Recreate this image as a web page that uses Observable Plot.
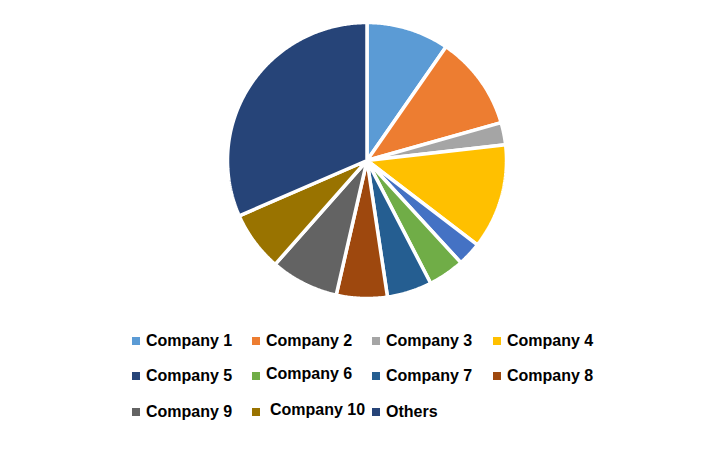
<!DOCTYPE html>
<html>
<head>
<meta charset="utf-8">
<script src="https://cdn.jsdelivr.net/npm/d3@7"></script>
<script src="https://cdn.jsdelivr.net/npm/@observablehq/plot@0.6"></script>
<style>
  html, body { margin: 0; padding: 0; background: #fff; }
  #wrap { position: relative; width: 723px; height: 456px; overflow: hidden; }
  #chart svg { display: block; }
  #legend {
    position: absolute; left: 132px; top: 323px;
    display: grid; grid-template-columns: 120px 120px 121px 120px;
    grid-template-rows: 35px 35px 36px;
    font-family: "Liberation Sans", Arial, sans-serif; font-weight: bold; font-size: 16px; color: #000;
  }
  .item { display: flex; align-items: center; white-space: nowrap; }
  .sw { width: 8px; height: 8px; margin-right: 6px; flex: none; }
  .item:nth-child(6) span:last-child { position: relative; top: -2px; }
  .item:nth-child(10) span:last-child { position: relative; top: -2px; left: 4px; }
  .item:nth-child(9), .item:nth-child(10), .item:nth-child(11) { padding-top: 2px; }
</style>
</head>
<body>
<div id="wrap">
  <div id="chart"></div>
  <div id="legend"></div>
</div>
<script>
const names = ["Company 1","Company 2","Company 3","Company 4","Company 5","Company 6","Company 7","Company 8","Company 9","Company 10","Others"];
const shares = [9.6, 11.0, 2.6, 12.3, 2.8, 4.2, 5.2, 5.9, 7.9, 7.0, 31.6];
const sliceColors = ["#5B9BD5","#ED7D31","#A5A5A5","#FFC000","#4472C4","#70AD47","#255E91","#9E480E","#636363","#997300","#264478"];
const legendColors = ["#5B9BD5","#ED7D31","#A5A5A5","#FFC000","#264478","#70AD47","#255E91","#9E480E","#636363","#997300","#264478"];

// Build slice outlines (in unit-circle data space) from the shares
const pie = d3.pie().sort(null).value(d => d)(shares);
const pts = [];
pie.forEach((p, i) => {
  const name = names[i];
  pts.push({name, x: 0, y: 0});
  const steps = Math.max(2, Math.ceil((p.endAngle - p.startAngle) / (Math.PI / 360)));
  for (let k = 0; k <= steps; k++) {
    const a = p.startAngle + (p.endAngle - p.startAngle) * k / steps;
    pts.push({name, x: Math.sin(a), y: Math.cos(a)});
  }
  pts.push({name, x: 0, y: 0});
});

const chart = Plot.plot({
  width: 723,
  height: 312,
  marginLeft: 227,
  marginRight: 217,
  marginTop: 22,
  marginBottom: 14,
  x: {domain: [-1, 1], axis: null},
  y: {domain: [-1, 1], axis: null},
  color: {domain: names, range: sliceColors},
  marks: [
    Plot.line(pts, {x: "x", y: "y", z: "name", fill: "name", stroke: "white", strokeWidth: 3.5, strokeLinejoin: "miter", curve: "linear"})
  ]
});
document.getElementById("chart").appendChild(chart);

const legend = document.getElementById("legend");
names.forEach((n, i) => {
  const it = document.createElement("div");
  it.className = "item";
  const sw = document.createElement("span");
  sw.className = "sw";
  sw.style.background = legendColors[i];
  const t = document.createElement("span");
  t.textContent = n;
  it.appendChild(sw); it.appendChild(t);
  legend.appendChild(it);
});
</script>
</body>
</html>
